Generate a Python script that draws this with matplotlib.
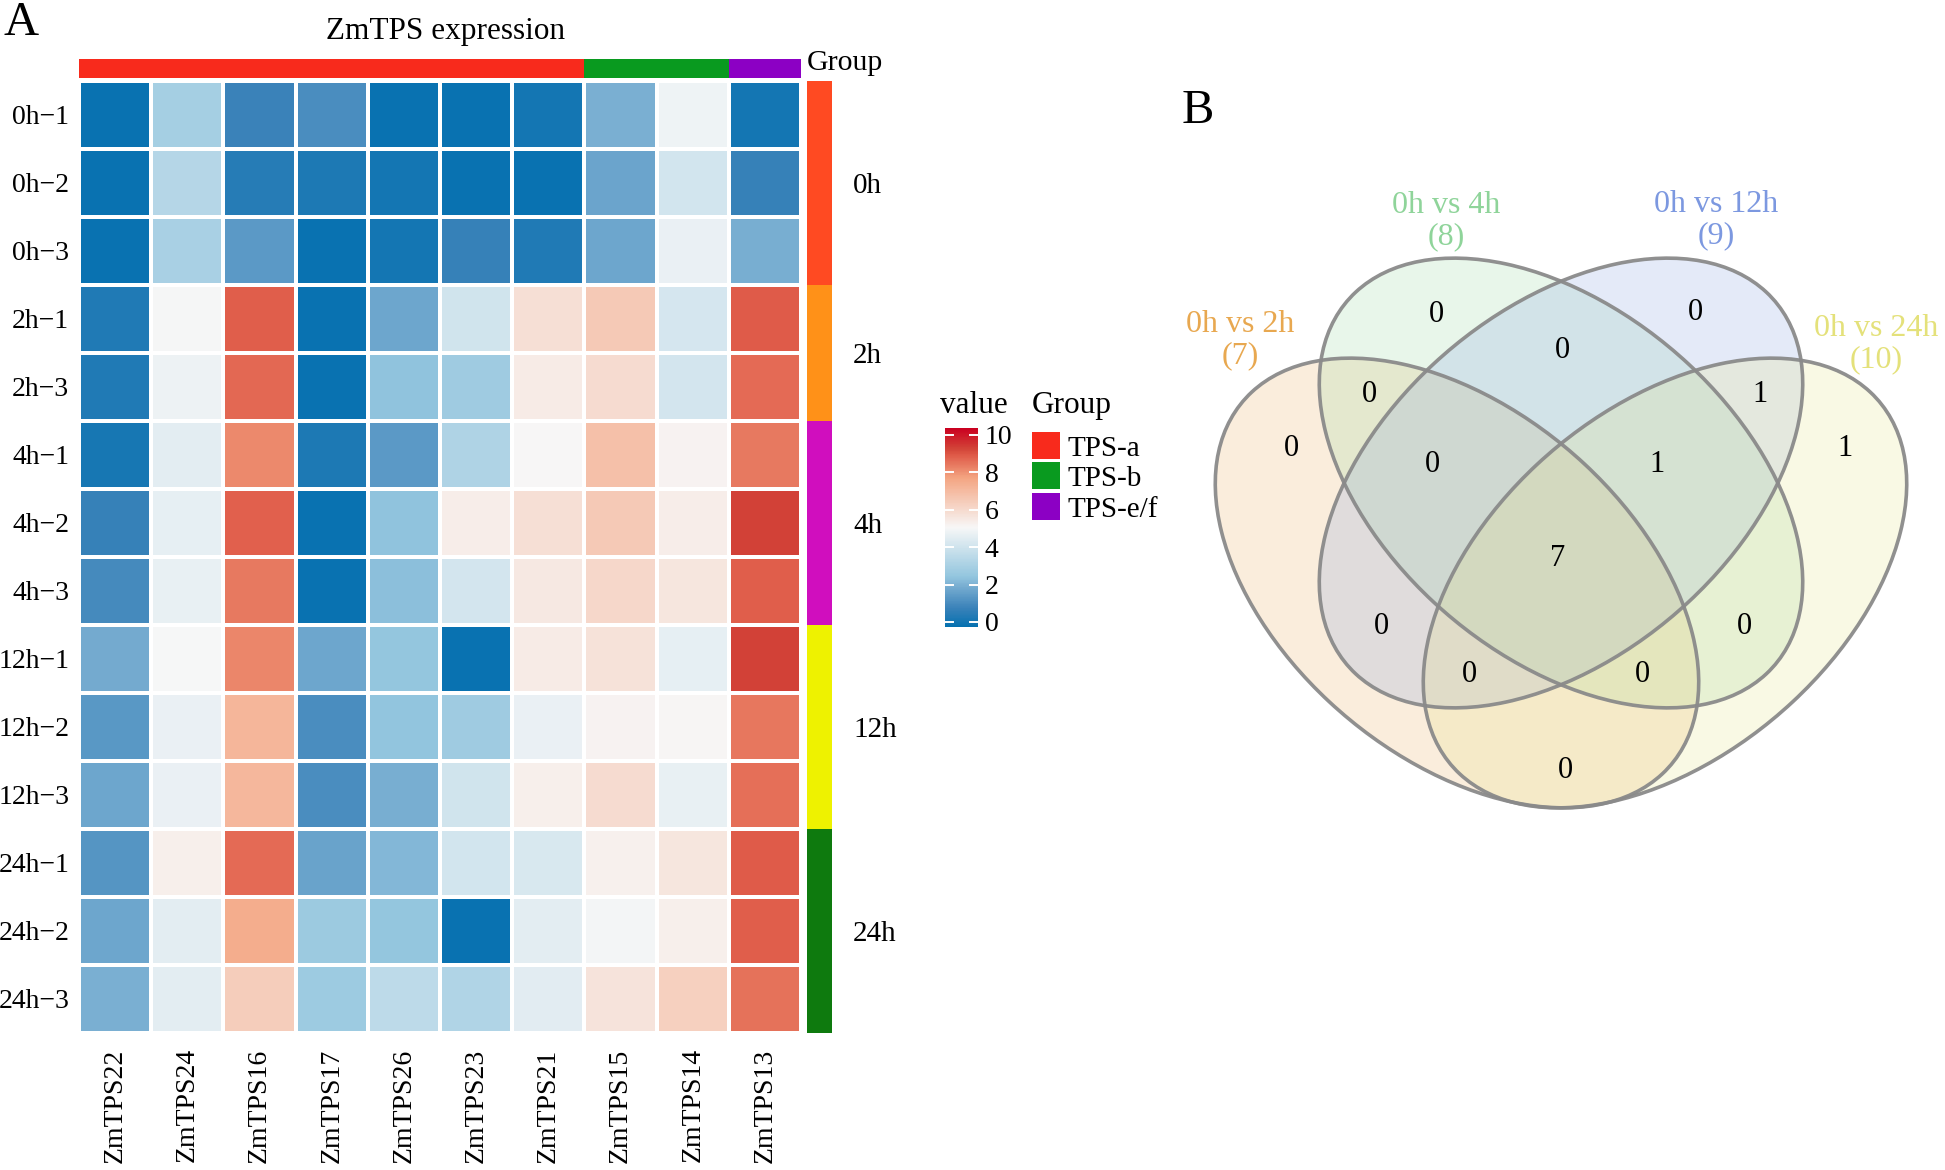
import matplotlib
matplotlib.use('Agg')
import matplotlib.pyplot as plt
from matplotlib.colors import LinearSegmentedColormap, ListedColormap, Normalize
from matplotlib.patches import Ellipse, Rectangle
import matplotlib.transforms as mtransforms
import numpy as np

plt.rcParams['font.family'] = ['Liberation Serif', 'DejaVu Serif']

# ---- panel A data: heatmap ----
genes = ['ZmTPS22', 'ZmTPS24', 'ZmTPS16', 'ZmTPS17', 'ZmTPS26',
         'ZmTPS23', 'ZmTPS21', 'ZmTPS15', 'ZmTPS14', 'ZmTPS13']
gene_group = ['TPS-a', 'TPS-a', 'TPS-a', 'TPS-a', 'TPS-a',
              'TPS-a', 'TPS-a', 'TPS-b', 'TPS-b', 'TPS-e/f']
samples = ['0h\u22121', '0h\u22122', '0h\u22123', '2h\u22121', '2h\u22123',
           '4h\u22121', '4h\u22122', '4h\u22123', '12h\u22121', '12h\u22122',
           '12h\u22123', '24h\u22121', '24h\u22122', '24h\u22123']
sample_group = ['0h', '0h', '0h', '2h', '2h', '4h', '4h', '4h',
                '12h', '12h', '12h', '24h', '24h', '24h']
expr = [
    [-0.18, 2.92, 0.73, 1.05, -0.18, -0.18, 0.05, 1.94, 4.81, 0.05],
    [-0.18, 3.32, 0.39, 0.22, 0.05, -0.18, -0.18, 1.67, 4.06, 0.67],
    [-0.18, 3.00, 1.39, -0.18, 0.05, 0.67, 0.26, 1.70, 4.68, 1.90],
    [0.26, 5.00, 8.87, -0.18, 1.70, 4.03, 5.83, 6.51, 4.17, 8.90],
    [0.26, 4.78, 8.67, -0.18, 2.36, 2.76, 5.44, 5.93, 4.13, 8.66],
    [0.09, 4.52, 8.15, 0.22, 1.39, 3.16, 5.05, 6.81, 5.18, 8.39],
    [0.67, 4.60, 8.82, -0.18, 2.36, 5.37, 5.83, 6.53, 5.37, 9.30],
    [0.96, 4.65, 8.40, -0.18, 2.29, 4.13, 5.53, 6.06, 5.63, 8.85],
    [1.83, 5.02, 8.18, 1.70, 2.47, -0.18, 5.44, 5.74, 4.60, 9.30],
    [1.33, 4.71, 7.16, 1.03, 2.42, 2.76, 4.71, 5.21, 5.10, 8.45],
    [1.70, 4.71, 7.10, 1.03, 1.90, 4.03, 5.31, 5.96, 4.65, 8.58],
    [1.24, 5.34, 8.63, 1.62, 2.13, 4.06, 4.23, 5.28, 5.63, 8.90],
    [1.70, 4.55, 7.42, 2.65, 2.45, -0.18, 4.55, 4.95, 5.34, 8.85],
    [1.96, 4.55, 6.41, 2.72, 3.53, 3.20, 4.47, 5.70, 6.32, 8.52],
]
cbar_ticks = [0, 2, 4, 6, 8, 10]

gene_group_names = ['TPS-a', 'TPS-b', 'TPS-e/f']
gene_group_colors = ['#F82A1C', '#099A1F', '#8C00C4']
time_names = ['0h', '2h', '4h', '12h', '24h']
time_colors = ['#FF4A22', '#FF9118', '#D00EBE', '#EEF200', '#0E7A0E']

# ---- panel B data: venn ----
set_names = ['0h vs 2h', '0h vs 4h', '0h vs 12h', '0h vs 24h']
set_sizes = [7, 8, 9, 10]
set_colors = ['#E8A850', '#8FD49A', '#7C98E0', '#E4E17A']
region_codes = ['1000', '0100', '0010', '0001', '1100', '0110', '0011', '1110',
                '0111', '1111', '1010', '0101', '1011', '1101', '1001']
region_counts = [0, 0, 0, 1, 0, 0, 1, 0, 1, 7, 0, 0, 0, 0, 0]

W, H = 1945, 1170
fig = plt.figure(figsize=(W / 100, H / 100), dpi=100)


def px_axes(x0, y0, x1, y1):
    return fig.add_axes([x0 / W, 1 - y1 / H, (x1 - x0) / W, (y1 - y0) / H])


cmap = LinearSegmentedColormap.from_list('rdbu', [
    (0.0, '#0571b0'), (0.094, '#3a82b9'), (0.2075, '#7aafd2'), (0.25, '#92c5de'),
    (0.5, '#f7f7f7'), (0.75, '#f4a582'), (0.8125, '#e87b62'),
    (0.86, '#e05d4a'), (0.9, '#d24237'), (1.0, '#ca0020')])
norm = Normalize(vmin=-0.27, vmax=10.37)

# heatmap
ax = px_axes(79, 81, 801, 1033)
data = np.array(expr)
mesh = ax.pcolormesh(data, cmap=cmap, norm=norm, edgecolors='white', linewidth=1.6)
ax.set_xlim(0, len(genes))
ax.set_ylim(len(samples), 0)
ax.set_yticks(np.arange(len(samples)) + 0.5, samples, fontsize=20)
ax.set_xticks(np.arange(len(genes)) + 0.5, genes, fontsize=20, rotation=90)
ax.tick_params(axis='y', length=0, pad=7)
ax.tick_params(axis='x', length=0, pad=11)
for s in ax.spines.values():
    s.set_visible(False)

# column annotation
ax_col = px_axes(79, 59, 801, 78)
col_idx = np.array([[gene_group_names.index(g) for g in gene_group]])
ax_col.pcolormesh(col_idx, cmap=ListedColormap(gene_group_colors), vmin=-0.5, vmax=2.5)
ax_col.axis('off')

# row annotation
ax_row = px_axes(807, 81, 832, 1033)
row_idx = np.array([[time_names.index(g)] for g in sample_group])
ax_row.pcolormesh(row_idx, cmap=ListedColormap(time_colors), vmin=-0.5, vmax=4.5)
ax_row.set_ylim(len(samples), 0)
ax_row.axis('off')
trans_row = mtransforms.blended_transform_factory(ax_row.transAxes, ax_row.transData)
for name in time_names:
    rows = [i for i, g in enumerate(sample_group) if g == name]
    mid = (rows[0] + rows[-1] + 1) / 2
    ax_row.text(1.84, mid, name, transform=trans_row, fontsize=21,
                ha='left', va='center_baseline')

fig.text(807 / W, 1 - 63 / H, 'Group', fontsize=21.5, ha='left', va='center')
fig.text(446 / W, 1 - 31 / H, 'ZmTPS expression', fontsize=22.5, ha='center', va='center')
fig.text(21 / W, 1 - 23 / H, 'A', fontsize=35, ha='center', va='center')

# colour bar legend
cax = px_axes(945, 428, 978, 627)
cb = fig.colorbar(mesh, cax=cax, ticks=cbar_ticks)
cb.outline.set_visible(False)
cax.tick_params(length=0, labelsize=20, pad=5)
tr = mtransforms.blended_transform_factory(cax.transAxes, cax.transData)
for t in cbar_ticks:
    cax.plot([0, 0.25], [t, t], color='white', lw=1.4, transform=tr)
    cax.plot([0.75, 1], [t, t], color='white', lw=1.4, transform=tr)
fig.text(940 / W, 1 - 413 / H, 'value', fontsize=22.5, va='baseline')
fig.text(1032 / W, 1 - 413 / H, 'Group', fontsize=22.5, va='baseline')

# group legend
lax = px_axes(1028, 425, 1200, 530)
lax.set_xlim(1028, 1200)
lax.set_ylim(530, 425)
lax.axis('off')
for i, (name, col) in enumerate(zip(gene_group_names, gene_group_colors)):
    y0 = 432 + i * 30.5
    lax.add_patch(Rectangle((1032, y0), 28, 27, facecolor=col, edgecolor='none'))
    lax.text(1068, y0 + 24, name, fontsize=21, va='baseline', ha='left')

# ---- panel B: venn ----
SX = 1.075  # horizontal stretch of the venn viewport
vax = px_axes(1180, 150, 1945, 850)
vax.set_xlim(1180 / SX, 1945 / SX)
vax.set_ylim(850, 150)
vax.axis('off')

ell_centers = [(1457, 583), (1561, 483), (1561, 483), (1665, 583)]
ell_angles = [45, 45, -45, -45]
for (cx, cy), ang, col in zip(ell_centers, ell_angles, set_colors):
    vax.add_patch(Ellipse((cx / SX, cy), 540, 336, angle=ang,
                          facecolor=col, edgecolor='none', alpha=0.2))
for (cx, cy), ang in zip(ell_centers, ell_angles):
    vax.add_patch(Ellipse((cx / SX, cy), 540, 336, angle=ang, fill=False,
                          edgecolor='#8a8a8a', lw=2.6, alpha=0.95))

label_pos = [(1240, 340), (1446, 221), (1716, 220), (1876, 344)]
for (x, y), name, n, col in zip(label_pos, set_names, set_sizes, set_colors):
    vax.text(x / SX, y, f'{name}\n({n})', color=col, fontsize=23,
             ha='center', va='center', linespacing=1.08, clip_on=False)

region_pos = {
    '1000': (1291, 449), '0100': (1436, 315), '0010': (1695, 313), '0001': (1845, 448),
    '1100': (1369, 395), '0110': (1562, 350), '0011': (1760, 395),
    '1110': (1432, 465), '0111': (1657, 465), '1111': (1558, 558),
    '1010': (1381, 627), '0101': (1744, 627), '1011': (1469, 675),
    '1101': (1642, 675), '1001': (1565, 770),
}
for code, n in zip(region_codes, region_counts):
    x, y = region_pos[code]
    vax.text(x / SX, y, str(n), fontsize=22, ha='center', va='center')

fig.text(1198 / W, 1 - 111 / H, 'B', fontsize=35, ha='center', va='center')

fig.savefig('out.png', dpi=100, facecolor='white')
